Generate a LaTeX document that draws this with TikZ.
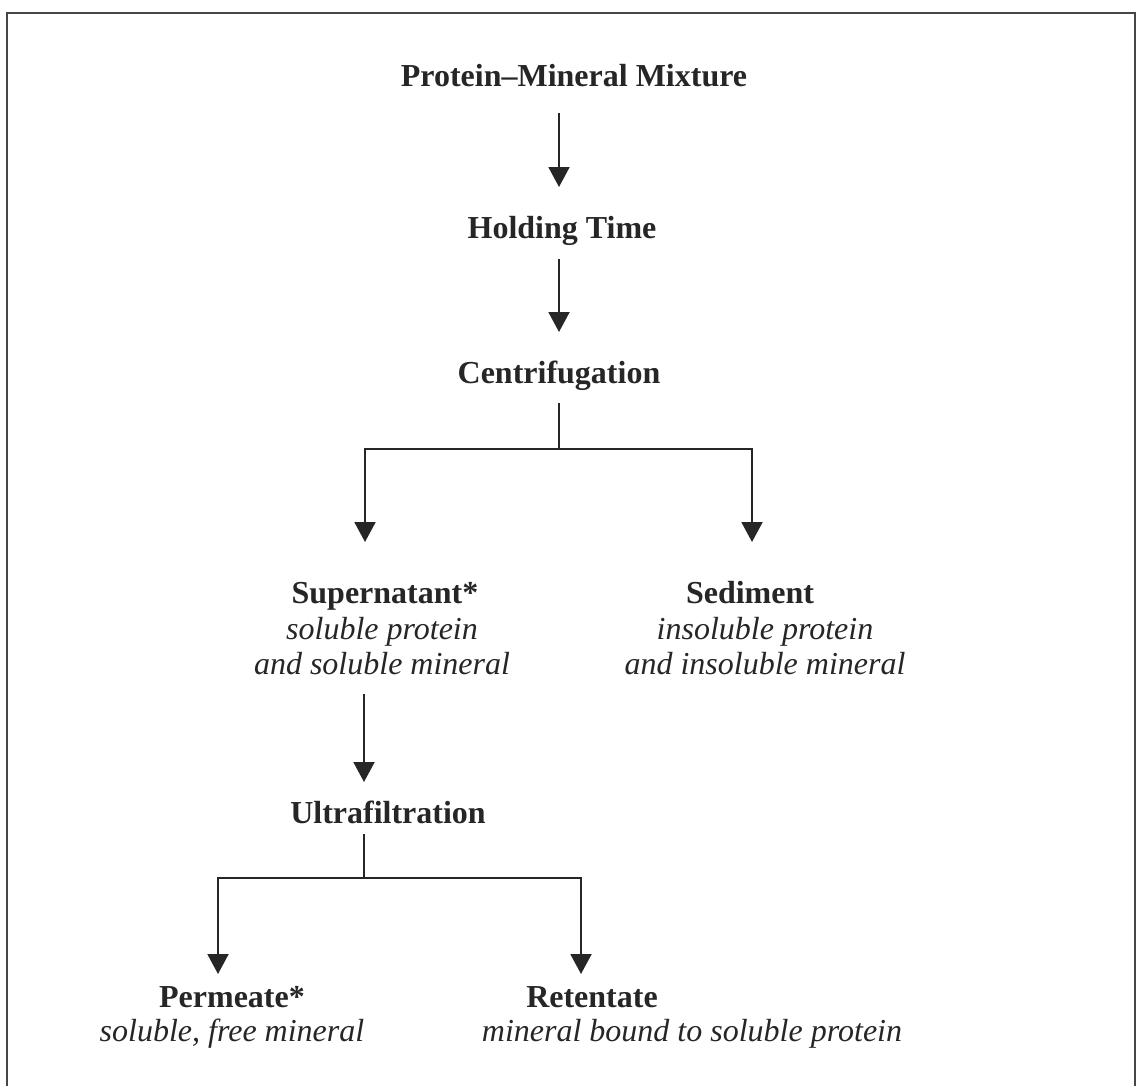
\documentclass[tikz,border=0pt]{standalone}
\usepackage{fontspec}
\setmainfont{Liberation Serif}
\usetikzlibrary{arrows.meta}
\definecolor{inkgray}{RGB}{38,38,38}
\definecolor{framegray}{RGB}{70,70,70}

\begin{document}
\begin{tikzpicture}[x=0.5pt,y=-0.5pt,line width=1pt,color=inkgray,
  title/.style={font=\fontsize{16}{17.5}\selectfont\bfseries,inner sep=0pt,
    text height=11pt,text depth=3.5pt,anchor=base},
  note/.style={font=\fontsize{16}{17.5}\selectfont\itshape,inner sep=0pt,
    align=center,anchor=north},
  flow/.style={-{Triangle[width=10.5pt,length=10pt]}}]
  \useasboundingbox (0,0) rectangle (1139,1086);
  \draw[framegray] (7,1086) -- (7,13) -- (1135,13) -- (1135,1086);

  \coordinate (csplit) at (559,449);
  \coordinate (usplit) at (364,878);

  \node[title] (mix) at (574,87) {Protein--Mineral Mixture};
  \node[title] (hold) at (562,238) {Holding Time};
  \node[title] (cent) at (559,383) {Centrifugation};
  \node[title] (sup) at (385,603) {Supernatant*};
  \node[note] (supdesc) at (382,616) {soluble protein\\and soluble mineral};
  \node[title] (sed) at (750,603) {Sediment};
  \node[note] (seddesc) at (765,616) {insoluble protein\\and insoluble mineral};
  \node[title] (ultra) at (388,823) {Ultrafiltration};
  \node[title] (perm) at (232,1007) {Permeate*};
  \node[note] (permdesc) at (232,1018) {soluble, free mineral};
  \node[title] (ret) at (592,1007) {Retentate};
  \node[note] (retdesc) at (692,1018) {mineral bound to soluble protein};

  \draw[flow,shorten <=9pt,shorten >=14pt] (mix.south -| csplit) -- (hold.north -| csplit);
  \draw[flow,shorten <=6.5pt,shorten >=14pt] (hold.south -| csplit) -- (cent.north -| csplit);
  \draw[shorten <=6pt] (cent.south -| csplit) -- (csplit);
  \draw[flow,shorten >=19pt] (csplit) -| ([xshift=-10pt]sup.north);
  \draw[flow,shorten >=19pt] (csplit) -| ([xshift=1pt]sed.north);
  \draw[flow,shorten <=9pt,shorten >=9pt] (supdesc.south -| usplit) -- (ultra.north -| usplit);
  \draw[shorten <=1.5pt] (ultra.south -| usplit) -- (usplit);
  \draw[flow,shorten >=5pt] (usplit) -| ([xshift=-7pt]perm.north);
  \draw[flow,shorten >=5pt] (usplit) -| ([xshift=-5.5pt]ret.north);
\end{tikzpicture}
\end{document}
